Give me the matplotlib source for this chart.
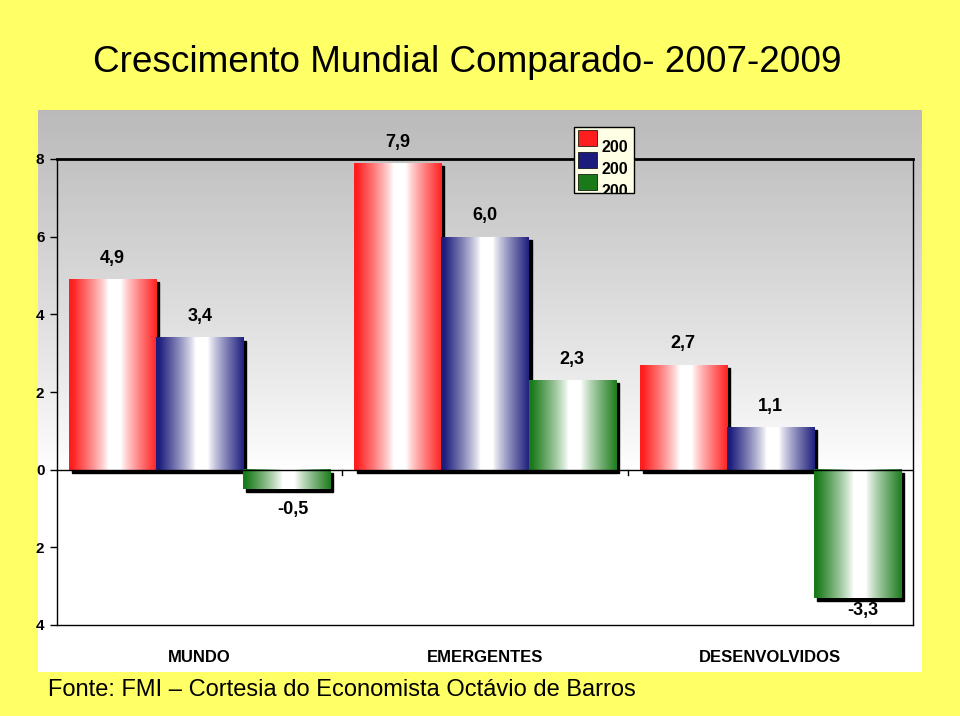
import numpy as np
import matplotlib.pyplot as plt
from matplotlib.patches import Rectangle
from matplotlib.colors import to_rgb

# data
regioes = ['MUNDO', 'EMERGENTES', 'DESENVOLVIDOS']
anos = ['2007', '2008', '2009']
v2007 = [4.9, 7.9, 2.7]
v2008 = [3.4, 6.0, 1.1]
v2009 = [-0.5, 2.3, -3.3]
cores = ['#ff1e1e', '#1c1c7c', '#1a7a1a']

plt.rcParams['font.family'] = ['Liberation Sans', 'DejaVu Sans']

fig = plt.figure(figsize=(9.6, 7.16), dpi=100)
fig.patch.set_facecolor('#ffff66')

# gray gradient panel behind the chart
bg = fig.add_axes([38/960, 1-672/716, 884/960, 562/716])
bg.set_axis_off()
g = np.linspace(0, 1, 400)
shade = np.clip((g - 0.36) / 0.64, 0, 1) ** 0.9
shade = 1.0 - 0.27 * shade
bg.imshow(np.dstack([shade, shade, shade]).reshape(400, 1, 3),
          aspect='auto', extent=[0, 1, 0, 1], origin='lower')
bg.set_xlim(0, 1)
bg.set_ylim(0, 1)

ax = fig.add_axes([57/960, 1-625/716, 856/960, 466/716])
ax.set_facecolor('none')
ax.set_xlim(-0.5, 2.5)
ax.set_ylim(-4, 8)

w = 0.305
px_x = 3 / 285.3
px_y = 3 / 38.8


def grad(cor):
    c = np.array(to_rgb(cor))
    t = np.linspace(0, 1, 200)
    k = np.clip((np.abs(t - 0.52) - 0.07) / 0.42, 0, 1) ** 0.85
    img = (1 - k)[:, None] * np.ones(3) + k[:, None] * c
    return img[None, :, :]


series = [v2007, v2008, v2009]
for j, vals in enumerate(series):
    for i, v in enumerate(vals):
        x0 = i + (j - 1) * w - w / 2
        # shadow
        ax.add_patch(Rectangle((x0 + px_x, min(0, v) - px_y), w, abs(v),
                               color='black', zorder=2))
        ax.imshow(grad(cores[j]), aspect='auto', zorder=3,
                  extent=[x0, x0 + w, min(0, v), max(0, v)])
        txt = ('%.1f' % v).replace('.', ',')
        if v >= 0:
            ax.annotate(txt, (i + (j - 1) * w, v), xytext=(0, 15),
                        textcoords='offset points', ha='center', va='center',
                        fontsize=13, fontweight='bold', zorder=5)
        else:
            off = -15 if v > -1 else -9
            ax.annotate(txt, (i + (j - 1) * w + 0.02, v), xytext=(0, off),
                        textcoords='offset points', ha='center', va='center',
                        fontsize=13, fontweight='bold', zorder=5)

ax.set_xlim(-0.5, 2.5)
ax.set_ylim(-4, 8)
ax.axhline(0, color='black', lw=1, zorder=4)
for xb in [0.5, 1.5]:
    ax.plot([xb, xb], [0, -0.13], color='black', lw=1, zorder=4)

for s in ax.spines.values():
    s.set_color('black')
    s.set_linewidth(1)
ax.spines['top'].set_linewidth(2)
ax.set_xticks([])
ax.set_yticks([8, 6, 4, 2, 0, -2, -4])
ax.set_yticklabels(['8', '6', '4', '2', '0', '2', '4'], fontweight='bold',
                   fontsize=11)
ax.tick_params(axis='y', length=5, width=1, pad=4, direction='out')

for i, r in enumerate(regioes):
    fig.text((57 + 285.3 * (i + 0.5)) / 960, 1 - 657/716, r, ha='center',
             va='center', fontsize=12, fontweight='bold')

# legend (clipped like the original)
lg = Rectangle((574/960, 1-193/716), 60/960, 66/716, transform=fig.transFigure,
               facecolor='#ffffe6', edgecolor='black', lw=1, zorder=6)
fig.add_artist(lg)
clip = Rectangle((574/960, 1-193/716), 53/960, 66/716,
                 transform=fig.transFigure)
for k in range(3):
    yc = 138 + 22 * k
    fig.add_artist(Rectangle((578/960, 1-(yc+8)/716), 19/960, 16/716,
                             transform=fig.transFigure, facecolor=cores[k],
                             edgecolor='black', lw=0.5, zorder=7))
    t = fig.text(601/960, 1-(yc+9)/716, anos[k], ha='left', va='center',
                 fontsize=11.5, fontweight='bold', zorder=7)
    t.set_clip_path(clip)

fig.text(93/960, 1-62/716, 'Crescimento Mundial Comparado- 2007-2009',
         fontsize=26.6, ha='left', va='center')
fig.text(48/960, 1-690/716,
         'Fonte: FMI \u2013 Cortesia do Economista Oct\u00e1vio de Barros',
         fontsize=17, ha='left', va='center')

fig.savefig('out.png', dpi=100, facecolor=fig.get_facecolor())
